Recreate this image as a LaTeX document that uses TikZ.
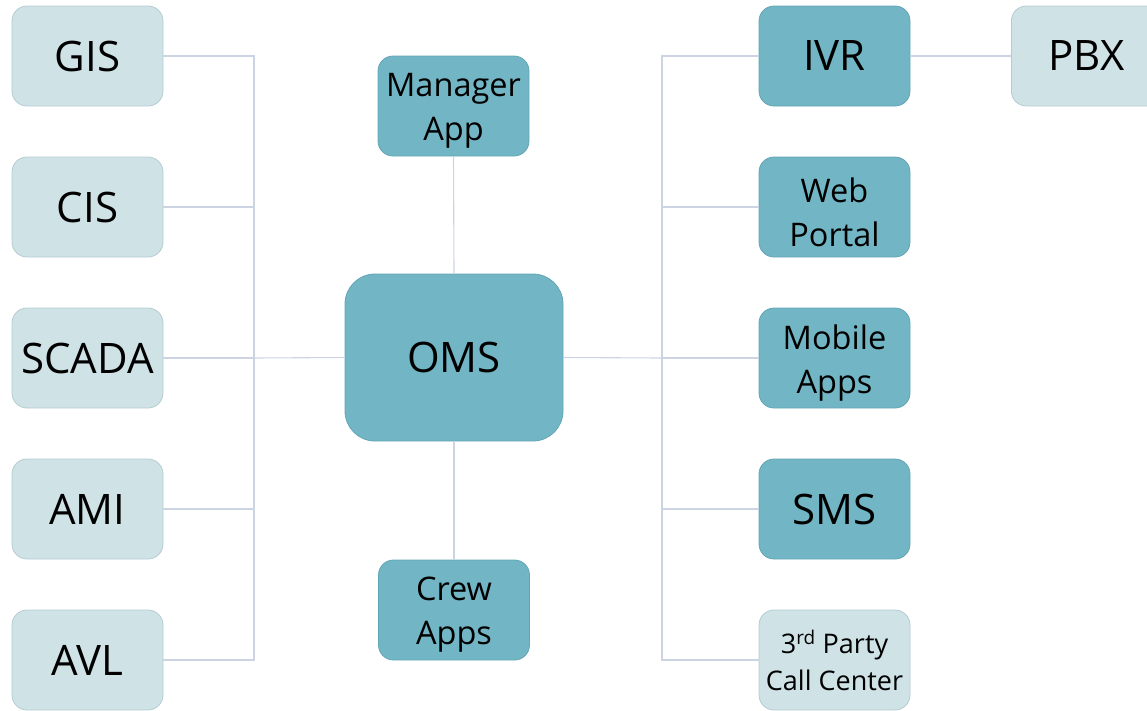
\documentclass[tikz,border=0pt]{standalone}
\usepackage{fontspec}
\setmainfont{Open Sans}
\definecolor{lightfill}{HTML}{CFE2E6}
\definecolor{lightedge}{HTML}{B4CCD2}
\definecolor{darkfill}{HTML}{72B6C5}
\definecolor{darkedge}{HTML}{62A6B6}
\definecolor{wire}{HTML}{CCD4E4}
\tikzset{
  box/.style={rounded corners=15pt, minimum width=151pt, minimum height=100pt, inner sep=0pt, align=center, text=black, line width=0.8pt},
  lightbox/.style={box, fill=lightfill, draw=lightedge},
  darkbox/.style={box, fill=darkfill, draw=darkedge},
  big/.style={font=\fontsize{42}{50}\selectfont},
  mid/.style={font=\fontsize{32.5}{44}\selectfont},
  small/.style={font=\fontsize{27}{37}\selectfont},
  twoline/.style={label={[mid,align=center,text=black,yshift=-5pt,inner sep=0pt]center:#1}},
  wireline/.style={draw=wire, line width=1.1pt},
}
\begin{document}
\begin{tikzpicture}[x=1pt,y=-1pt]
\useasboundingbox (0,0) rectangle (1147,710);
\begin{scope}
\clip (0,0) rectangle (1147,710);
\coordinate (jl) at (254,358);
\coordinate (jr) at (662,358);
% left column
\node[lightbox,big] (gis) at (87.5,56) {GIS};
\node[lightbox,big] (cis) at (87.5,207) {CIS};
\node[lightbox,big] (scada) at (87.5,358) {SCADA};
\node[lightbox,big] (ami) at (87.5,509) {AMI};
\node[lightbox,big] (avl) at (87.5,660) {AVL};
% center
\node[darkbox,big,minimum width=218pt,minimum height=167pt,rounded corners=30pt] (oms) at (454,357.5) {OMS};
\node[darkbox,twoline={Manager\\App}] (mgr) at (453.5,106) {};
\node[darkbox,twoline={Crew\\Apps}] (crew) at (454,610) {};
% right column
\node[darkbox,big] (ivr) at (834.5,56) {IVR};
\node[darkbox,twoline={Web\\Portal}] (web) at (834.5,207) {};
\node[darkbox,twoline={Mobile\\Apps}] (mob) at (834.5,358) {};
\node[darkbox,big] (sms) at (834.5,509) {SMS};
\node[lightbox,small] (call) at (834.5,660) {3\textsuperscript{rd} Party\\Call Center};
\node[lightbox,big,minimum width=152pt,anchor=west] (pbx) at (1011,56) {\hspace*{-2pt}PBX};
\end{scope}
% connectors
\path[wireline] (gis.east) -| (jl);
\path[wireline] (cis.east) -| (jl);
\path[wireline] (scada.east) -- (jl);
\path[wireline] (ami.east) -| (jl);
\path[wireline] (avl.east) -| (jl);
\path[wireline] (jl) -- (oms.west);
\path[wireline] (mgr.south) -- (oms.north);
\path[wireline] (oms.south) -- (crew.north);
\path[wireline] (oms.east) -- (jr);
\path[wireline] (jr) |- (ivr.west);
\path[wireline] (jr) |- (web.west);
\path[wireline] (jr) -- (mob.west);
\path[wireline] (jr) |- (sms.west);
\path[wireline] (jr) |- (call.west);
\path[wireline] (ivr.east) -- (pbx.west);
\end{tikzpicture}
\end{document}
